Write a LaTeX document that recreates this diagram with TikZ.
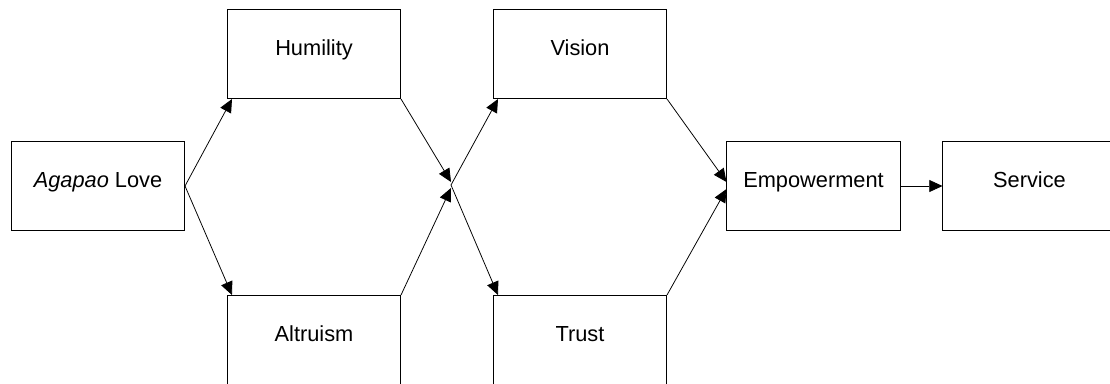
\documentclass[tikz,border=0pt]{standalone}
\usepackage{fontspec}
\setmainfont{Liberation Sans}
\usetikzlibrary{calc,arrows.meta}
\newcommand{\stagebox}[4]{%
\node[stage] (#3) at (#1,#2) {#4};
}
\newcommand{\linkto}[2]{%
\draw[link] (#1) -- (#2);
}

\begin{document}
\begin{tikzpicture}[x=0.025cm, y=-0.025cm,
  stage/.style={draw, line width=0.7pt, inner sep=0pt, minimum width=4.325cm,
    text height=1.15cm, text depth=1.075cm, font=\fontsize{15.5}{18}\selectfont},
  link/.style={line width=0.55pt, -{Triangle[length=0.33cm, width=0.3cm]}}]

\useasboundingbox (0,0) rectangle (1110,383);

\stagebox{98}{186}{love}{\textit{Agapao} Love}

\stagebox{314}{54}{humility}{Humility}
\stagebox{314}{340}{altruism}{Altruism}

\stagebox{580}{54}{vision}{Vision}
\stagebox{580}{340}{trust}{Trust}

\stagebox{813.5}{186}{empower}{Empowerment}
\stagebox{1029.5}{186}{service}{Service}

\coordinate (cross) at (451,185);

\linkto{love.east}{$(humility.south west)+(5,0)$}
\linkto{love.east}{$(altruism.north west)+(5,0)$}

\linkto{humility.south east}{$(cross)+(0,-3)$}
\linkto{altruism.north east}{$(cross)+(0,3)$}

\linkto{cross}{$(vision.south west)+(5,0)$}
\linkto{cross}{$(trust.north west)+(5,0)$}

\linkto{vision.south east}{$(empower.west)+(0,-4)$}
\linkto{trust.north east}{$(empower.west)+(0,3)$}

\linkto{empower.east}{service.west}

\end{tikzpicture}
\end{document}
